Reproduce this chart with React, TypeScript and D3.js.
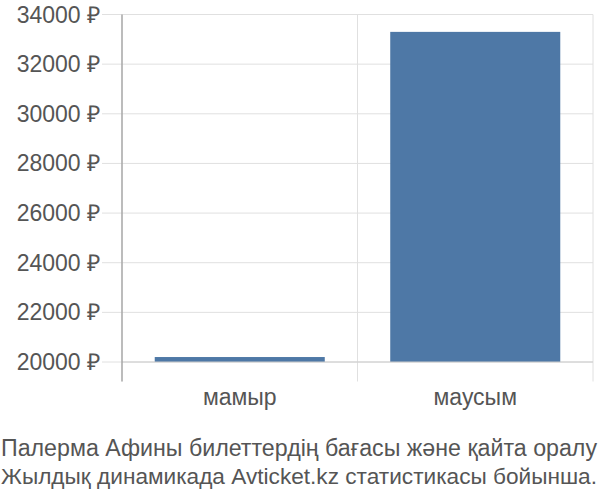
import React from "react";
import * as d3 from "d3";

const categories = ["мамыр", "маусым"];
const values = [20200, 33300];
const yTicks = [20000, 22000, 24000, 26000, 28000, 30000, 32000, 34000];
const captionLines = [
  "Палерма Афины билеттердің бағасы және қайта оралу",
  "Жылдық динамикада Avticket.kz статистикасы бойынша.",
];

const W = 600;
const H = 500;
const left = 122;
const right = 593;
const top = 14.5;
const bottom = 362;

export default function App() {
  const x = d3.scaleBand<string>().domain(categories).range([left, right]).paddingInner(0.278).paddingOuter(0.139);
  const y = d3.scaleLinear().domain([20000, 34000]).range([bottom, top]);
  const step = x.step();
  const bounds = d3.range(categories.length + 1).map((i) => left + i * step);
  const font = "'Liberation Sans', Arial, sans-serif";
  const captionSizes = [23, 22.6];
  return (
    <svg width={W} height={H} style={{ position: "absolute", left: 0, top: 0 }}>
      <rect width={W} height={H} fill="#fff" />
      {yTicks.map((t) => (
        <g key={t}>
          <line x1={102} x2={right} y1={y(t)} y2={y(t)} stroke="#e0e0e0" strokeWidth={1} />
          <text x={100} y={y(t)} dy="0.35em" textAnchor="end" fontFamily={font} fontSize={23} fill="#555">
            {t} ₽
          </text>
        </g>
      ))}
      {bounds.map((b, i) => (
        <line key={i} x1={b} x2={b} y1={top} y2={381.5} stroke="#e0e0e0" strokeWidth={1} />
      ))}
      {categories.map((c, i) => (
        <rect key={c} x={x(c)} y={y(values[i])} width={x.bandwidth()} height={bottom - y(values[i])} fill="#4e78a6" />
      ))}
      <line x1={left} x2={right} y1={bottom} y2={bottom} stroke="#ccc" strokeWidth={1} />
      <line x1={left} x2={left} y1={top} y2={381.5} stroke="#999" strokeWidth={1.2} />
      {categories.map((c) => (
        <text key={c} x={(x(c) as number) + x.bandwidth() / 2} y={405} textAnchor="middle" fontFamily={font} fontSize={23} fill="#555">
          {c}
        </text>
      ))}
      {captionLines.map((l, i) => (
        <text
          key={i}
          x={1}
          y={456 + i * 28}
          fontFamily={font}
          fontSize={captionSizes[i]}
          fill="#555"
          textLength={596}
          lengthAdjust="spacingAndGlyphs"
        >
          {l}
        </text>
      ))}
    </svg>
  );
}
